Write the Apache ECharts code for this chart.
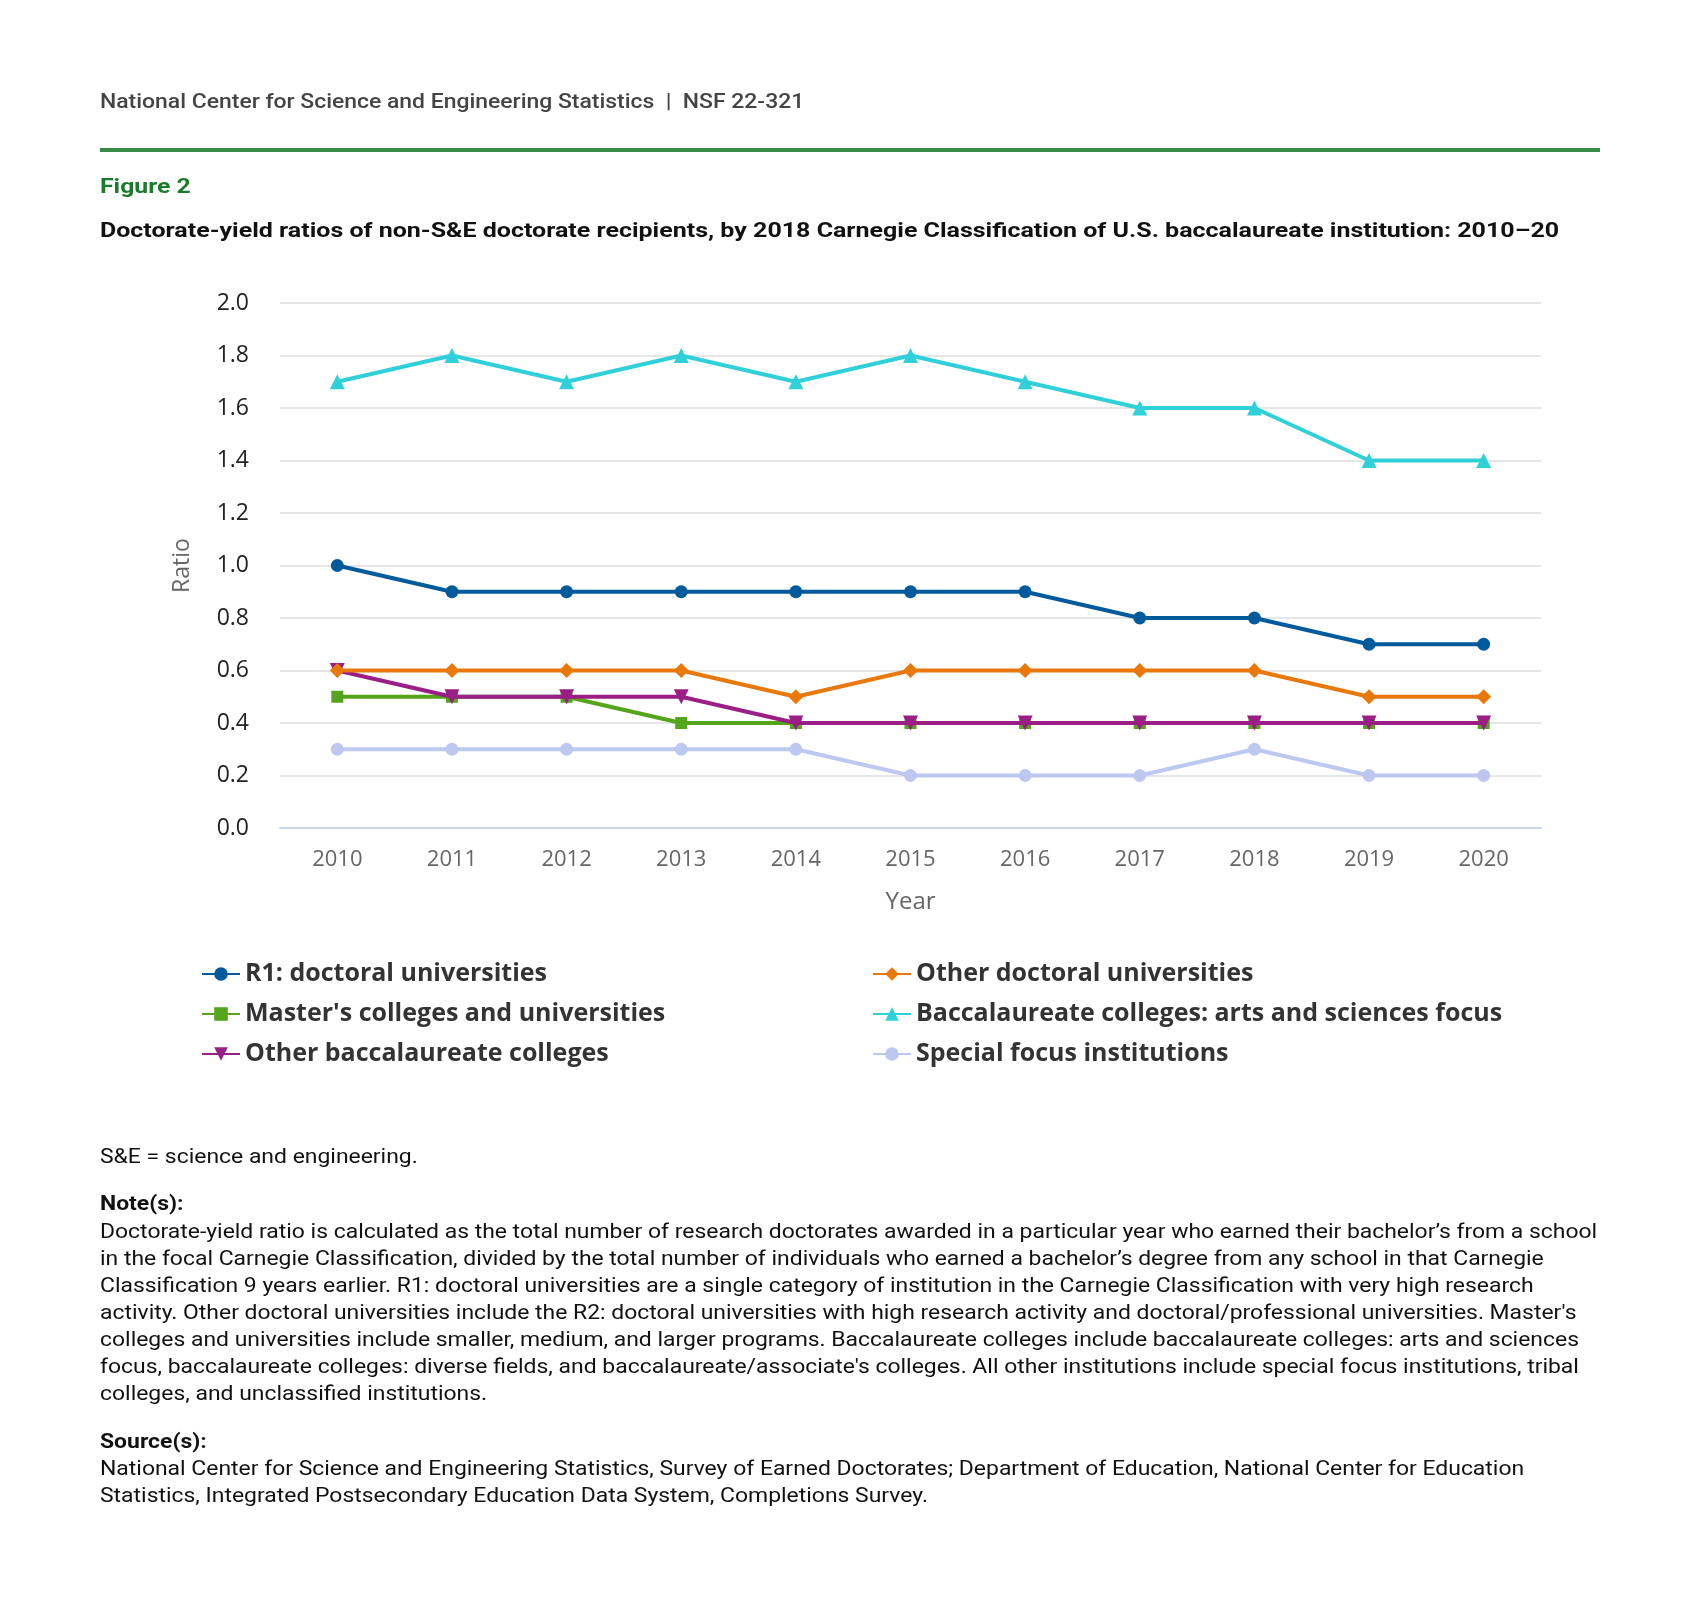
<!DOCTYPE html>
<html><head><meta charset="utf-8">
<script src="https://cdn.jsdelivr.net/npm/echarts@6/dist/echarts.min.js"></script>
<style>html,body{margin:0;padding:0;background:#fff}#c{width:1699px;height:1617px}</style>
</head><body><div id="c"></div>
<script>
const years = ['2010','2011','2012','2013','2014','2015','2016','2017','2018','2019','2020'];
const yTicks = [0,0.2,0.4,0.6,0.8,1.0,1.2,1.4,1.6,1.8,2.0];
const r1 = [1.0,0.9,0.9,0.9,0.9,0.9,0.9,0.8,0.8,0.7,0.7];
const otherDoctoral = [0.6,0.6,0.6,0.6,0.5,0.6,0.6,0.6,0.6,0.5,0.5];
const masters = [0.5,0.5,0.5,0.4,0.4,0.4,0.4,0.4,0.4,0.4,0.4];
const baccArts = [1.7,1.8,1.7,1.8,1.7,1.8,1.7,1.6,1.6,1.4,1.4];
const otherBacc = [0.6,0.5,0.5,0.5,0.4,0.4,0.4,0.4,0.4,0.4,0.4];
const specialFocus = [0.3,0.3,0.3,0.3,0.3,0.2,0.2,0.2,0.3,0.2,0.2];
const seriesNames = ['R1: doctoral universities','Other doctoral universities',"Master's colleges and universities",'Baccalaureate colleges: arts and sciences focus','Other baccalaureate colleges','Special focus institutions'];

const headerText = 'National Center for Science and Engineering Statistics  |  NSF 22-321';
const figureLabel = 'Figure 2';
const titleText = 'Doctorate-yield ratios of non-S&E doctorate recipients, by 2018 Carnegie Classification of U.S. baccalaureate institution: 2010–20';
const abbrevText = 'S&E = science and engineering.';
const notesHead = 'Note(s):';
const notesLines = [
 'Doctorate-yield ratio is calculated as the total number of research doctorates awarded in a particular year who earned their bachelor’s from a school',
 'in the focal Carnegie Classification, divided by the total number of individuals who earned a bachelor’s degree from any school in that Carnegie',
 'Classification 9 years earlier. R1: doctoral universities are a single category of institution in the Carnegie Classification with very high research',
 "activity. Other doctoral universities include the R2: doctoral universities with high research activity and doctoral/professional universities. Master's",
 'colleges and universities include smaller, medium, and larger programs. Baccalaureate colleges include baccalaureate colleges: arts and sciences',
 "focus, baccalaureate colleges: diverse fields, and baccalaureate/associate's colleges. All other institutions include special focus institutions, tribal",
 'colleges, and unclassified institutions.'
];
const sourceHead = 'Source(s):';
const sourceLines = [
 'National Center for Science and Engineering Statistics, Survey of Earned Doctorates; Department of Education, National Center for Education',
 'Statistics, Integrated Postsecondary Education Data System, Completions Survey.'
];

const colors = ['#005a9c','#e8780a','#55a51c','#30d0da','#9b1d86','#bdc8f0'];
const symbols = ['circle','diamond','rect','triangle','path://M0,0 L10,0 L5,10 Z','circle'];
const dataSets = [r1, otherDoctoral, masters, baccArts, otherBacc, specialFocus];
const symSizes = [13,15,12,15,15,13];

const chart = echarts.init(document.getElementById('c'), null, {renderer:'canvas'});
const RF = 'Roboto, "Liberation Sans", sans-serif';
const OF = '"Open Sans", "Noto Sans", sans-serif';

const series = dataSets.map((d,i)=>({
  name: seriesNames[i], type:'line', data:d, color: colors[i],
  symbol: symbols[i], symbolSize: symSizes[i], showAllSymbol:true,
  lineStyle:{width:4, color:colors[i]}, itemStyle:{color:colors[i]},
  z: [6,5,3,7,4,2][i], animation:false
}));

function txt(x, y, text, font, fill, sx) {
  return {type:'text', x:x, y:y, scaleX:sx, scaleY:1,
    style:{text:text, font:font, fill:fill, verticalAlign:'middle', align:'left'}};
}

const graphics = [
  txt(100, 102.5, headerText, '500 20px '+RF, '#444', 1.146),
  {type:'rect', x:100, y:148, shape:{width:1500, height:4}, style:{fill:'#3a8a48'}},
  txt(100, 188, figureLabel, 'bold 21px '+RF, '#1c7a2c', 1.18),
  txt(100, 232, titleText, 'bold 21px '+RF, '#111', 1.19),
  txt(100, 1157.5, abbrevText, '20px '+RF, '#111', 1.146),
  txt(100, 1204.5, notesHead, 'bold 20px '+RF, '#111', 1.146),
  {type:'text', x:100, y:1219, scaleX:1.146, style:{text:notesLines.join('\n'), font:'20px '+RF, fill:'#111', lineHeight:27.1, verticalAlign:'top'}},
  txt(100, 1442.5, sourceHead, 'bold 20px '+RF, '#111', 1.146),
  {type:'text', x:100, y:1456, scaleX:1.146, style:{text:sourceLines.join('\n'), font:'20px '+RF, fill:'#111', lineHeight:27.1, verticalAlign:'top'}}
];

const legendCommon = {orient:'vertical', itemWidth:38, itemHeight:17, itemGap:14,
  textStyle:{fontFamily:OF, fontWeight:'bold', fontSize:25, color:'#333', lineHeight:26}, selectedMode:false};

chart.setOption({
  backgroundColor:'#fff',
  animation:false,
  grid:{left:280, right:158, top:303, bottom:789, containLabel:false},
  xAxis:{type:'category', data:years, boundaryGap:true,
    axisLine:{lineStyle:{color:'#ccd6eb', width:2}},
    axisTick:{alignWithLabel:true, length:12, lineStyle:{color:'#ccd6eb', width:2}},
    axisLabel:{fontFamily:OF, fontSize:22, color:'#666', margin:21},
    name:'Year', nameLocation:'middle', nameGap:62,
    nameTextStyle:{fontFamily:OF, fontSize:24, color:'#666'}},
  yAxis:{type:'value', min:0, max:2, interval:0.2,
    axisLine:{show:false}, axisTick:{show:false},
    axisLabel:{fontFamily:OF, fontSize:23, color:'#222', margin:31, formatter:v=>v.toFixed(1)},
    splitLine:{lineStyle:{color:'#e6e6e6', width:2}},
    name:'Ratio', nameLocation:'middle', nameGap:86, nameRotate:90,
    nameTextStyle:{fontFamily:OF, fontSize:23, color:'#666'}},
  legend:[
    Object.assign({left:196, top:956, data:[seriesNames[0],seriesNames[2],seriesNames[4]]}, legendCommon),
    Object.assign({left:867, top:956, data:[seriesNames[1],seriesNames[3],seriesNames[5]]}, legendCommon)
  ],
  graphic: graphics,
  series: series
});
</script></body></html>
